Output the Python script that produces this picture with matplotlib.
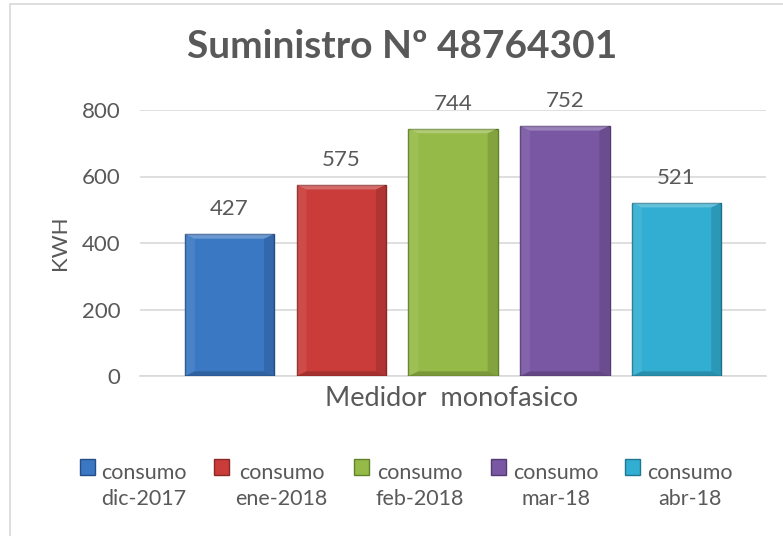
import matplotlib.pyplot as plt
from matplotlib.patches import Patch, Rectangle, Polygon
import numpy as np

# Data
periods = ['dic-2017', 'ene-2018', 'feb-2018', 'mar-18', 'abr-18']
consumo = [427, 575, 744, 752, 521]
colors = ['#3B78C4', '#C93C39', '#95BA47', '#7957A3', '#32AED2']
edge_colors = ['#244F86', '#8A2826', '#62812D', '#523A72', '#1F7790']

plt.rcParams['font.family'] = ['Lato', 'DejaVu Sans']
text_color = '#595959'

W, H = 783, 536
fig = plt.figure(figsize=(W / 100, H / 100), dpi=100)

# Chart area border
fig.patches.append(Rectangle((10 / W, -0.1), 1.0, 1.1 - 4 / H, transform=fig.transFigure,
                             fill=False, edgecolor='#D9D9D9', linewidth=1.2))

ax = fig.add_axes([140 / W, 1 - 376 / H, (766 - 140) / W, (376 - 110) / H])

x = np.arange(len(consumo))
bar_w = 0.8
bars = ax.bar(x, consumo, width=bar_w, color=colors, edgecolor=edge_colors, linewidth=1.0, zorder=3)

# simple bevel on each bar
for b in bars:
    x0, w, h = b.get_x(), b.get_width(), b.get_height()
    bx = 0.09
    by = 14
    top = Polygon([(x0, h), (x0 + w, h), (x0 + w - bx, h - by), (x0 + bx, h - by)],
                  closed=True, facecolor='white', alpha=0.25, edgecolor='none', zorder=4)
    ax.add_patch(top)
    left = Polygon([(x0, h), (x0 + bx, h - by), (x0 + bx, by), (x0, 0)],
                   closed=True, facecolor='white', alpha=0.08, edgecolor='none', zorder=4)
    ax.add_patch(left)
    right = Polygon([(x0 + w, h), (x0 + w, 0), (x0 + w - bx, by), (x0 + w - bx, h - by)],
                    closed=True, facecolor='black', alpha=0.12, edgecolor='none', zorder=4)
    ax.add_patch(right)
    bottom = Polygon([(x0, 0), (x0 + w, 0), (x0 + w - bx, by), (x0 + bx, by)],
                     closed=True, facecolor='black', alpha=0.18, edgecolor='none', zorder=4)
    ax.add_patch(bottom)
    ax.text(x0 + w / 2, h + 75, f'{h:.0f}', ha='center', va='center',
            fontsize=16, color=text_color)

ax.set_xlim(-0.8, 4.8)
ax.set_ylim(0, 800)
ax.set_yticks([0, 200, 400, 600, 800])
ax.yaxis.grid(True, color='#D9D9D9', linewidth=1.2, zorder=0)
ax.set_axisbelow(True)
for s in ['top', 'right', 'left']:
    ax.spines[s].set_visible(False)
ax.spines['bottom'].set_color('#D9D9D9')
ax.spines['bottom'].set_linewidth(1.2)
ax.set_xticks([])
ax.tick_params(axis='y', length=0, labelsize=16, labelcolor=text_color, pad=14)

fig.text(60 / W, 1 - 243 / H, 'KWH', rotation=90, ha='center', va='center',
         fontsize=16, color=text_color)

fig.text(452 / W, 1 - 398 / H, 'Medidor  monofasico', ha='center', va='center',
         fontsize=19.5, color=text_color)

fig.text(402 / W, 1 - 47 / H, 'Suministro Nº 48764301', ha='center', va='center',
         fontsize=28, fontweight='bold', color=text_color)

handles = [Patch(facecolor=c, edgecolor=e) for c, e in zip(colors, edge_colors)]
labels = ['consumo\n' + p for p in periods]
leg = fig.legend(handles, labels, loc='center', bbox_to_anchor=(406 / W, 1 - 486 / H),
                 ncol=5, frameon=False, fontsize=15.5, handlelength=0.7, handleheight=0.7,
                 handletextpad=0.3, columnspacing=1.25, labelcolor=text_color)
for t in leg.get_texts():
    t.set_multialignment('center')
    t.set_linespacing(1.4)
# put the colour boxes beside the first text line
for p in leg.get_patches():
    p.set_y(p.get_y() + 14)

fig.savefig('out.png', dpi=100)
